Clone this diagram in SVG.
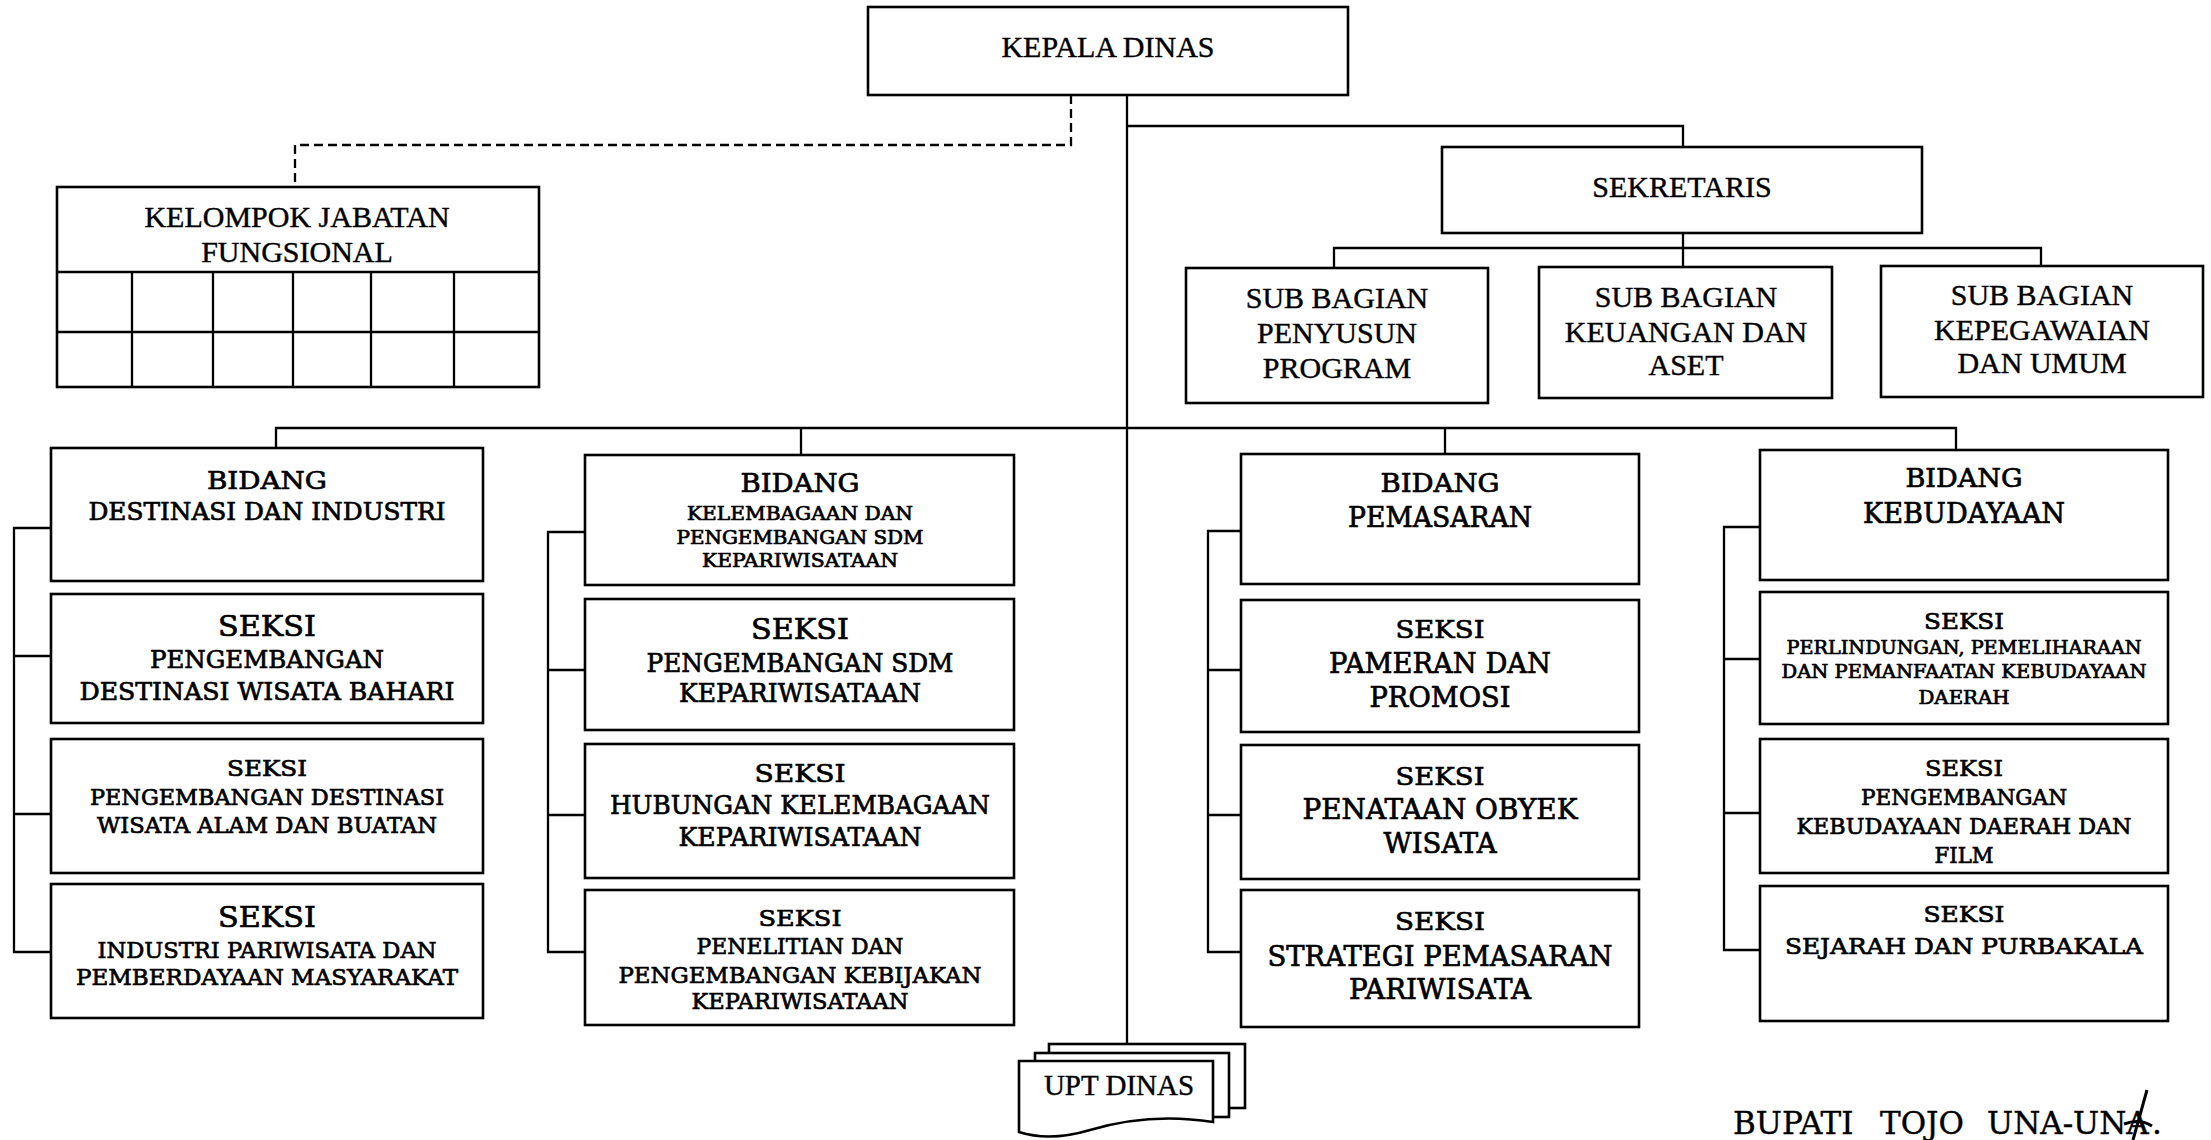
<svg xmlns="http://www.w3.org/2000/svg" width="2211" height="1140" viewBox="0 0 2211 1140">
<style>
.box{fill:#fff;stroke:#000;stroke-width:2.6}
.ln{fill:none;stroke:#000;stroke-width:2.3}
.dash{fill:none;stroke:#000;stroke-width:2.3;stroke-dasharray:9 5}
.t{font-family:"Liberation Serif","Times New Roman",serif;font-size:30px;text-anchor:middle;fill:#000;stroke:#000;stroke-width:0.4}
.w{font-family:"DejaVu Serif",serif;text-anchor:middle;fill:#000;stroke:#000;stroke-width:0.7}
</style>
<rect width="2211" height="1140" fill="#fff"/>
<g id="connectors">
<path class="ln" d="M1127 95 V1044"/>
<path class="ln" d="M1127 126 H1683 V147"/>
<path class="ln" d="M1683 233 V267"/>
<path class="ln" d="M1334 268 V248 H2041 V266"/>
<path class="dash" d="M1071 95 V145 H295 V187"/>
<path class="ln" d="M276 449 V428 H1956 V450"/>
<path class="ln" d="M801 428 V455"/>
<path class="ln" d="M1445 428 V454"/>
<path class="ln" d="M51 528 H14 V952 H50 M14 656 H50 M14 814 H51"/>
<path class="ln" d="M585 532 H548 V952 H585 M548 670 H585 M548 815 H585"/>
<path class="ln" d="M1241 531 H1208 V952 H1241 M1208 670 H1241 M1208 815 H1241"/>
<path class="ln" d="M1760 527 H1724 V950 H1760 M1724 659 H1760 M1724 813 H1760"/>
</g>
<g id="kepala-dinas">
<rect class="box" x="868" y="7" width="480" height="88"/>
<text class="t" x="1108" y="57">KEPALA DINAS</text>
</g>
<g id="sekretaris">
<rect class="box" x="1442" y="147" width="480" height="86"/>
<text class="t" x="1682" y="197">SEKRETARIS</text>
</g>
<g id="sub-program">
<rect class="box" x="1186" y="268" width="302" height="135"/>
<text class="t" x="1337" y="308">SUB BAGIAN</text>
<text class="t" x="1337" y="343">PENYUSUN</text>
<text class="t" x="1337" y="378">PROGRAM</text>
</g>
<g id="sub-keuangan">
<rect class="box" x="1539" y="267" width="293" height="131"/>
<text class="t" x="1686" y="307">SUB BAGIAN</text>
<text class="t" x="1686" y="342">KEUANGAN DAN</text>
<text class="t" x="1686" y="375">ASET</text>
</g>
<g id="sub-kepegawaian">
<rect class="box" x="1881" y="266" width="322" height="131"/>
<text class="t" x="2042" y="305">SUB BAGIAN</text>
<text class="t" x="2042" y="340">KEPEGAWAIAN</text>
<text class="t" x="2042" y="373">DAN UMUM</text>
</g>
<g id="kelompok-jabatan">
<rect class="box" x="57" y="187" width="482" height="200"/>
<path class="ln" d="M57 272 H539 M57 332 H539 M132 272 V387 M213 272 V387 M293 272 V387 M371 272 V387 M454 272 V387"/>
<text class="t" x="297" y="227">KELOMPOK JABATAN</text>
<text class="t" x="297" y="262">FUNGSIONAL</text>
</g>
<g id="bidang-destinasi">
<rect class="box" x="51" y="448" width="432" height="133"/>
<text class="w" x="267" y="489" font-size="25" textLength="120" lengthAdjust="spacingAndGlyphs">BIDANG</text>
<text class="w" x="267" y="520" font-size="23.5" textLength="357" lengthAdjust="spacingAndGlyphs">DESTINASI DAN INDUSTRI</text>
</g>
<g id="seksi-bahari">
<rect class="box" x="51" y="594" width="432" height="129"/>
<text class="w" x="267" y="636" font-size="27" textLength="98" lengthAdjust="spacingAndGlyphs">SEKSI</text>
<text class="w" x="267" y="668" font-size="24" textLength="234" lengthAdjust="spacingAndGlyphs">PENGEMBANGAN</text>
<text class="w" x="267" y="700" font-size="24" textLength="375" lengthAdjust="spacingAndGlyphs">DESTINASI WISATA BAHARI</text>
</g>
<g id="seksi-alam">
<rect class="box" x="51" y="739" width="432" height="134"/>
<text class="w" x="267" y="776" font-size="22" textLength="80" lengthAdjust="spacingAndGlyphs">SEKSI</text>
<text class="w" x="267" y="805" font-size="22" textLength="354" lengthAdjust="spacingAndGlyphs">PENGEMBANGAN DESTINASI</text>
<text class="w" x="267" y="833" font-size="22" textLength="340" lengthAdjust="spacingAndGlyphs">WISATA ALAM DAN BUATAN</text>
</g>
<g id="seksi-industri">
<rect class="box" x="51" y="884" width="432" height="134"/>
<text class="w" x="267" y="927" font-size="27" textLength="98" lengthAdjust="spacingAndGlyphs">SEKSI</text>
<text class="w" x="267" y="958" font-size="23" textLength="339" lengthAdjust="spacingAndGlyphs">INDUSTRI PARIWISATA DAN</text>
<text class="w" x="267" y="985" font-size="23" textLength="382" lengthAdjust="spacingAndGlyphs">PEMBERDAYAAN MASYARAKAT</text>
</g>
<g id="bidang-kelembagaan">
<rect class="box" x="585" y="455" width="429" height="130"/>
<text class="w" x="800" y="492" font-size="26" textLength="119" lengthAdjust="spacingAndGlyphs">BIDANG</text>
<text class="w" x="800" y="520" font-size="18.5" textLength="226" lengthAdjust="spacingAndGlyphs">KELEMBAGAAN DAN</text>
<text class="w" x="800" y="544" font-size="18.5" textLength="247" lengthAdjust="spacingAndGlyphs">PENGEMBANGAN SDM</text>
<text class="w" x="800" y="567" font-size="18.5" textLength="196" lengthAdjust="spacingAndGlyphs">KEPARIWISATAAN</text>
</g>
<g id="seksi-sdm">
<rect class="box" x="585" y="599" width="429" height="131"/>
<text class="w" x="800" y="639" font-size="27" textLength="98" lengthAdjust="spacingAndGlyphs">SEKSI</text>
<text class="w" x="800" y="672" font-size="26" textLength="307" lengthAdjust="spacingAndGlyphs">PENGEMBANGAN SDM</text>
<text class="w" x="800" y="702" font-size="26" textLength="242" lengthAdjust="spacingAndGlyphs">KEPARIWISATAAN</text>
</g>
<g id="seksi-hubungan">
<rect class="box" x="585" y="744" width="429" height="134"/>
<text class="w" x="800" y="782" font-size="25" textLength="91" lengthAdjust="spacingAndGlyphs">SEKSI</text>
<text class="w" x="800" y="814" font-size="26" textLength="380" lengthAdjust="spacingAndGlyphs">HUBUNGAN KELEMBAGAAN</text>
<text class="w" x="800" y="846" font-size="26" textLength="243" lengthAdjust="spacingAndGlyphs">KEPARIWISATAAN</text>
</g>
<g id="seksi-penelitian">
<rect class="box" x="585" y="890" width="429" height="135"/>
<text class="w" x="800" y="926" font-size="23" textLength="83" lengthAdjust="spacingAndGlyphs">SEKSI</text>
<text class="w" x="800" y="954" font-size="22" textLength="207" lengthAdjust="spacingAndGlyphs">PENELITIAN DAN</text>
<text class="w" x="800" y="983" font-size="22" textLength="363" lengthAdjust="spacingAndGlyphs">PENGEMBANGAN KEBIJAKAN</text>
<text class="w" x="800" y="1009" font-size="22" textLength="217" lengthAdjust="spacingAndGlyphs">KEPARIWISATAAN</text>
</g>
<g id="bidang-pemasaran">
<rect class="box" x="1241" y="454" width="398" height="130"/>
<text class="w" x="1440" y="492" font-size="26" textLength="119" lengthAdjust="spacingAndGlyphs">BIDANG</text>
<text class="w" x="1440" y="527" font-size="27" textLength="184" lengthAdjust="spacingAndGlyphs">PEMASARAN</text>
</g>
<g id="seksi-pameran">
<rect class="box" x="1241" y="600" width="398" height="132"/>
<text class="w" x="1440" y="638" font-size="25" textLength="89" lengthAdjust="spacingAndGlyphs">SEKSI</text>
<text class="w" x="1440" y="673" font-size="27" textLength="222" lengthAdjust="spacingAndGlyphs">PAMERAN DAN</text>
<text class="w" x="1440" y="707" font-size="27" textLength="141" lengthAdjust="spacingAndGlyphs">PROMOSI</text>
</g>
<g id="seksi-penataan">
<rect class="box" x="1241" y="745" width="398" height="134"/>
<text class="w" x="1440" y="785" font-size="25" textLength="89" lengthAdjust="spacingAndGlyphs">SEKSI</text>
<text class="w" x="1440" y="819" font-size="27" textLength="275" lengthAdjust="spacingAndGlyphs">PENATAAN OBYEK</text>
<text class="w" x="1440" y="853" font-size="27" textLength="113" lengthAdjust="spacingAndGlyphs">WISATA</text>
</g>
<g id="seksi-strategi">
<rect class="box" x="1241" y="890" width="398" height="137"/>
<text class="w" x="1440" y="930" font-size="25" textLength="90" lengthAdjust="spacingAndGlyphs">SEKSI</text>
<text class="w" x="1440" y="966" font-size="27" textLength="345" lengthAdjust="spacingAndGlyphs">STRATEGI PEMASARAN</text>
<text class="w" x="1440" y="999" font-size="27" textLength="182" lengthAdjust="spacingAndGlyphs">PARIWISATA</text>
</g>
<g id="bidang-kebudayaan">
<rect class="box" x="1760" y="450" width="408" height="130"/>
<text class="w" x="1964" y="487" font-size="26" textLength="117" lengthAdjust="spacingAndGlyphs">BIDANG</text>
<text class="w" x="1964" y="523" font-size="27" textLength="202" lengthAdjust="spacingAndGlyphs">KEBUDAYAAN</text>
</g>
<g id="seksi-perlindungan">
<rect class="box" x="1760" y="592" width="408" height="132"/>
<text class="w" x="1964" y="629" font-size="23" textLength="80" lengthAdjust="spacingAndGlyphs">SEKSI</text>
<text class="w" x="1964" y="654" font-size="18" textLength="355" lengthAdjust="spacingAndGlyphs">PERLINDUNGAN, PEMELIHARAAN</text>
<text class="w" x="1964" y="678" font-size="18" textLength="365" lengthAdjust="spacingAndGlyphs">DAN PEMANFAATAN KEBUDAYAAN</text>
<text class="w" x="1964" y="704" font-size="18" textLength="91" lengthAdjust="spacingAndGlyphs">DAERAH</text>
</g>
<g id="seksi-pengembangan-kebudayaan">
<rect class="box" x="1760" y="739" width="408" height="134"/>
<text class="w" x="1964" y="776" font-size="23" textLength="78" lengthAdjust="spacingAndGlyphs">SEKSI</text>
<text class="w" x="1964" y="805" font-size="22" textLength="206" lengthAdjust="spacingAndGlyphs">PENGEMBANGAN</text>
<text class="w" x="1964" y="834" font-size="22" textLength="335" lengthAdjust="spacingAndGlyphs">KEBUDAYAAN DAERAH DAN</text>
<text class="w" x="1964" y="863" font-size="22" textLength="59" lengthAdjust="spacingAndGlyphs">FILM</text>
</g>
<g id="seksi-sejarah">
<rect class="box" x="1760" y="886" width="408" height="135"/>
<text class="w" x="1964" y="922" font-size="23" textLength="81" lengthAdjust="spacingAndGlyphs">SEKSI</text>
<text class="w" x="1964" y="954" font-size="23" textLength="358" lengthAdjust="spacingAndGlyphs">SEJARAH DAN PURBAKALA</text>
</g>
<g id="upt-dinas">
<rect class="box" x="1049" y="1044" width="196" height="64"/>
<rect class="box" x="1035" y="1053" width="194" height="64"/>
<path class="box" d="M1019 1061 H1213 V1122 Q1150 1112 1090 1130 Q1050 1142 1019 1132 Z"/>
<text class="t" x="1119" y="1095" style="font-size:29px">UPT DINAS</text>
</g>
<g id="bupati">
<text class="w" x="1733" y="1134" font-size="31" style="text-anchor:start;stroke-width:0.4"><tspan x="1733">BUPATI</tspan><tspan x="1880">TOJO</tspan><tspan x="1987">UNA-UNA</tspan><tspan x="2152">.</tspan></text>
<path class="ln" d="M2147 1090 Q2140 1115 2133 1140 M2124 1124 Q2140 1118 2152 1126" style="stroke-width:3"/>
</g>
</svg>
